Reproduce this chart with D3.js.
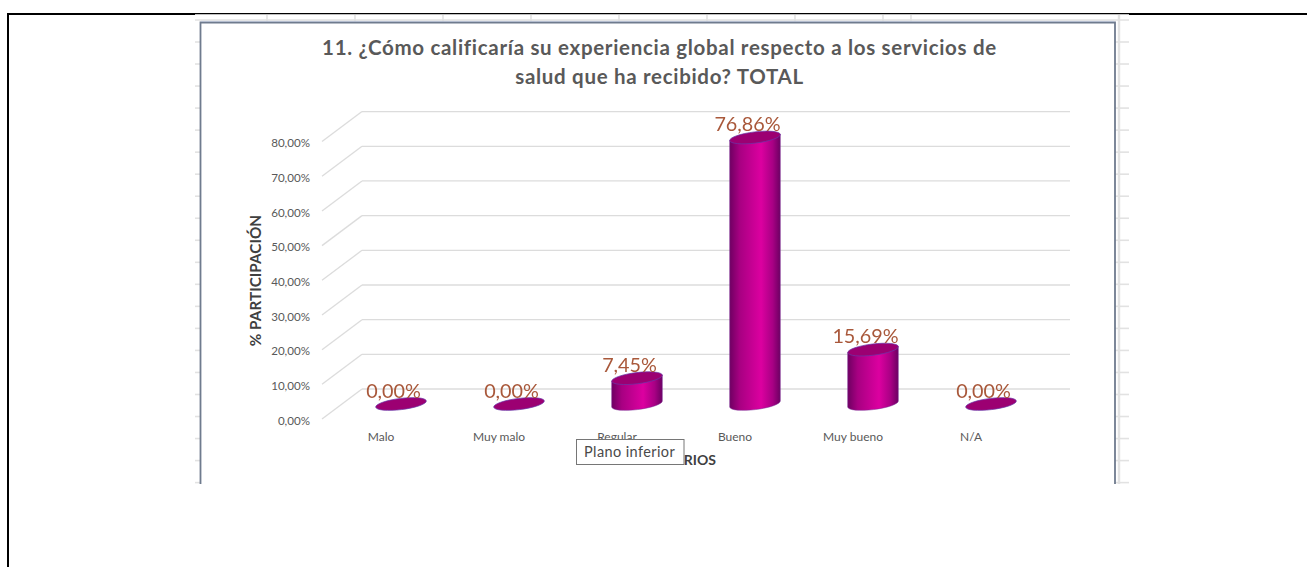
<!DOCTYPE html>
<html lang="es">
<head>
<meta charset="utf-8">
<title>Experiencia global TOTAL</title>
<script src="https://cdn.jsdelivr.net/npm/d3@7"></script>
<style>
  html, body { margin: 0; background: #fff; }
  svg { display: block; }
  text { font-family: Lato, "Open Sans", sans-serif; }
</style>
</head>
<body>
<svg id="chart" width="1307" height="567"></svg>
<script>
// Survey results
const categories = ["Malo", "Muy malo", "Regular", "Bueno", "Muy bueno", "N/A"];
const values = [0, 0, 7.45, 76.86, 15.69, 0];
const axisTicks = [0, 10, 20, 30, 40, 50, 60, 70, 80];
const titleLines = [
  "11. ¿Cómo calificaría su experiencia global respecto a los servicios de",
  "salud que ha recibido? TOTAL"
];
const yAxisTitle = "% PARTICIPACIÓN";
const xAxisTitle = "CRITERIOS";
const tooltipText = "Plano inferior";

const svg = d3.select("#chart");
const decimal = d3.formatLocale({ decimal: ",", thousands: ".", grouping: [3], currency: ["", ""] });
const pct = v => decimal.format(".2f")(v) + "%";

// Worksheet cells showing around the embedded chart
const sheet = svg.append("g").attr("stroke", "#e2e2e2");
const rowLines = d3.range(42, 484, 22.03);
sheet.selectAll(".row-l").data(rowLines).join("line")
  .attr("x1", 195).attr("x2", 201).attr("y1", d => d).attr("y2", d => d).attr("stroke-width", 1.6);
sheet.selectAll(".row-r").data(rowLines).join("line")
  .attr("x1", 1114).attr("x2", 1129).attr("y1", d => d).attr("y2", d => d).attr("stroke-width", 1.6);
sheet.append("line").attr("x1", 195).attr("x2", 1129).attr("y1", 20).attr("y2", 20).attr("stroke-width", 1.6);
sheet.append("line").attr("x1", 1119).attr("x2", 1119).attr("y1", 15).attr("y2", 484).attr("stroke-width", 2.4);
sheet.selectAll(".col").data([267, 355, 443, 531, 619, 707, 795, 883, 911]).join("line")
  .attr("x1", d => d).attr("x2", d => d).attr("y1", 15).attr("y2", 22).attr("stroke-width", 1.6);

// Page frame
const frame = svg.append("g").attr("stroke", "#000").attr("fill", "none");
frame.append("path").attr("d", "M8,567V14H195").attr("stroke-width", 2);
frame.append("line").attr("x1", 195).attr("x2", 1129).attr("y1", 13.6).attr("y2", 13.6).attr("stroke-width", 1.2);
frame.append("line").attr("x1", 1129).attr("x2", 1307).attr("y1", 14).attr("y2", 14).attr("stroke-width", 2);

// Chart area, cropped at the bottom
svg.append("rect").attr("x", 200.5).attr("y", 22.5).attr("width", 914.5).attr("height", 461.5).attr("fill", "#fff");
const border = svg.append("g").attr("stroke", "#6f7b8e").attr("stroke-width", 1.8).attr("fill", "none");
border.append("path").attr("d", "M200.5,484V22.5H1115V484");
svg.append("line").attr("x1", 201).attr("x2", 1114).attr("y1", 21.4).attr("y2", 21.4).attr("stroke", "#b4bed0").attr("stroke-width", 1);

// Title
svg.append("g").selectAll("text").data(titleLines).join("text")
  .attr("x", 659.5).attr("y", (d, i) => 54.5 + i * 29.5)
  .attr("text-anchor", "middle").attr("font-size", 20.5).attr("font-weight", 700)
  .attr("letter-spacing", 0.69)
  .attr("fill", "#595959").text(d => d);

// Scales: the floor runs from the front edge to the back wall
const depth = { dx: 40, dy: -30 };
const yFront = d3.scaleLinear().domain([0, 80]).range([419, 141.6]);
const yBack = yFront.copy().range(yFront.range().map(r => r + depth.dy));
const yMid = yFront.copy().range(yFront.range().map(r => r + depth.dy / 2));
const xFront = d3.scaleBand().domain(categories).range([322, 1030]);
const xMid = xFront.copy().range([342, 1050]);

// Back wall and side wall grid
const grid = svg.append("g").attr("stroke", "#dcdcdc").attr("stroke-width", 1.3).attr("fill", "none");
grid.selectAll(".back").data(axisTicks).join("line")
  .attr("x1", 362).attr("x2", 1070)
  .attr("y1", d => yBack(d)).attr("y2", d => yBack(d));
grid.selectAll(".side").data(axisTicks).join("line")
  .attr("x1", 322).attr("x2", 362)
  .attr("y1", d => yFront(d)).attr("y2", d => yBack(d));

// Axes
const yAxis = svg.append("g").attr("transform", "translate(322,1.5)")
  .call(d3.axisLeft(yFront).tickValues(axisTicks).tickFormat(pct).tickSize(0).tickPadding(12));
const xAxis = svg.append("g").attr("transform", "translate(0,432)")
  .call(d3.axisBottom(xFront).tickSize(0).tickPadding(0));
yAxis.selectAll("text").attr("font-size", 11.6);
xAxis.selectAll("text").attr("font-size", 12);
[yAxis, xAxis].forEach(a => {
  a.select(".domain").remove();
  a.selectAll("text").attr("font-family", "Lato, sans-serif").attr("fill", "#595959");
});

svg.append("text")
  .attr("transform", "translate(261,280.5) rotate(-90)")
  .attr("text-anchor", "middle").attr("font-size", 15.3).attr("font-weight", 700)
  .attr("fill", "#404040").text(yAxisTitle);
svg.append("text")
  .attr("x", 716).attr("y", 465).attr("text-anchor", "end")
  .attr("font-size", 14).attr("font-weight", 700).attr("fill", "#404040").text(xAxisTitle);

// Cylinder shading
const defs = svg.append("defs");
const body = defs.append("linearGradient").attr("id", "cylinder");
[[0, "#6f0062"], [0.2, "#a80082"], [0.62, "#dc00a0"], [0.85, "#a80084"], [1, "#6c0062"]].forEach(([o, c]) =>
  body.append("stop").attr("offset", o).attr("stop-color", c));
const halo = defs.append("filter").attr("id", "soft").attr("x", "-10%").attr("y", "-10%").attr("width", "120%").attr("height", "120%");
halo.append("feGaussianBlur").attr("stdDeviation", 0.3);

// Cylinders drawn from the values, tilted ellipses follow the floor perspective
const rx = 25.5, ry = 5.6, tilt = -7;
const rad = tilt * Math.PI / 180;
const ex = rx * Math.cos(rad), ey = rx * Math.sin(rad);
const lowX = -ry * Math.sin(rad), lowY = ry * Math.cos(rad);
const bars = svg.append("g").selectAll("g").data(categories.map((c, i) => ({ c, v: values[i] }))).join("g")
  .attr("transform", d => `translate(${xMid(d.c) + xMid.bandwidth() / 2},0)`);

bars.filter(d => d.v > 0).append("path")
  .attr("fill", "url(#cylinder)").attr("stroke", "#7a2f96").attr("stroke-width", 0.5)
  .attr("d", d => {
    const y0 = yMid(0), y1 = yMid(d.v);
    const arc = `A${rx},${ry} ${tilt} 0 0`;
    return `M${-ex},${y1 - ey}L${-ex},${y0 - ey}${arc} ${lowX},${y0 + lowY}${arc} ${ex},${y0 + ey}L${ex},${y1 + ey}Z`;
  });
bars.append("ellipse")
  .attr("rx", rx).attr("ry", ry)
  .attr("transform", d => `translate(0,${yMid(d.v)}) rotate(${tilt})`)
  .attr("fill", "#9c0072").attr("stroke", "#6a35a8").attr("stroke-width", 0.7);

// Value labels
bars.append("text")
  .attr("x", -7.5).attr("y", d => yMid(d.v) - 6.5)
  .attr("text-anchor", "middle").attr("font-size", 19.8)
  .attr("fill", "#a9583a")
  .attr("filter", "url(#soft)")
  .text(d => pct(d.v));

// Hover tooltip over the chart floor
const tip = svg.append("g");
tip.append("rect").attr("x", 576.5).attr("y", 439.5).attr("width", 107.5).attr("height", 25)
  .attr("fill", "#fff").attr("stroke", "#767676").attr("stroke-width", 1);
tip.append("text").attr("x", 584).attr("y", 457)
  .attr("font-family", "'Noto Sans', sans-serif").attr("font-size", 14.5).attr("letter-spacing", 0.4)
  .attr("fill", "#4a4a4a").text(tooltipText);
</script>
</body>
</html>
